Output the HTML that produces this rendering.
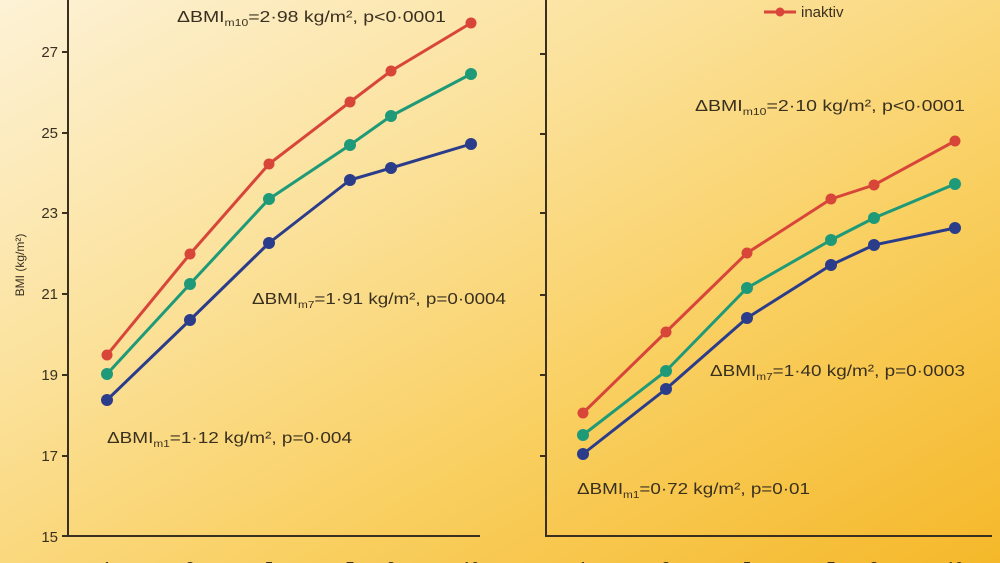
<!DOCTYPE html>
<html><head><meta charset="utf-8"><style>
html,body{margin:0;padding:0;width:1000px;height:563px;overflow:hidden}
svg{display:block}
text{font-family:"Liberation Sans",sans-serif;fill:#3a3020}
</style></head><body>
<svg width="1000" height="563" viewBox="0 0 1000 563" xmlns="http://www.w3.org/2000/svg">
<defs>
<linearGradient id="bg" x1="0" y1="0" x2="1" y2="1">
<stop offset="0" stop-color="#fdf2d6"/>
<stop offset="0.35" stop-color="#fbe19a"/>
<stop offset="0.65" stop-color="#f9cf60"/>
<stop offset="1" stop-color="#f5b82a"/>
</linearGradient>
</defs>
<rect width="1000" height="563" fill="url(#bg)"/>
<g stroke="#3a3020" stroke-width="2" fill="none">
<path d="M68 0V536H480"/>
<path d="M546 0V536H992"/>
<path d="M62 52H68M62 133H68M62 213H68M62 294H68M62 375H68M62 456H68M62 536H68"/>
<path d="M540 54H546M540 134H546M540 213H546M540 295H546M540 375H546M540 456H546"/>
</g>
<g font-size="15" text-anchor="end">
<text x="58" y="57">27</text><text x="58" y="138">25</text><text x="58" y="218">23</text>
<text x="58" y="299">21</text><text x="58" y="380">19</text><text x="58" y="461">17</text><text x="58" y="542">15</text>
</g>
<g font-size="15" text-anchor="middle">
<text x="107" y="572">1</text><text x="190" y="572">3</text><text x="269" y="572">5</text><text x="350" y="572">7</text><text x="391" y="572">8</text><text x="471" y="572">10</text>
<text x="583" y="572">1</text><text x="666" y="572">3</text><text x="747" y="572">5</text><text x="831" y="572">7</text><text x="874" y="572">8</text><text x="955" y="572">10</text>
</g>
<text x="24" y="265" font-size="12" text-anchor="middle" transform="rotate(-90 24 265)">BMI (kg/m²)</text>
<g fill="none" stroke-width="3" stroke-linejoin="round">
<polyline stroke="#d8463a" points="107,355 190,254 269,164 350,102 391,71 471,23"/>
<polyline stroke="#1f9a78" points="107,374 190,284 269,199 350,145 391,116 471,74"/>
<polyline stroke="#2b3d8a" points="107,400 190,320 269,243 350,180 391,168 471,144"/>
<polyline stroke="#d8463a" points="583,413 666,332 747,253 831,199 874,185 955,141"/>
<polyline stroke="#1f9a78" points="583,435 666,371 747,288 831,240 874,218 955,184"/>
<polyline stroke="#2b3d8a" points="583,454 666,389 747,318 831,265 874,245 955,228"/>
</g>
<g fill="#d8463a">
<circle cx="107" cy="355" r="5.5"/><circle cx="190" cy="254" r="5.5"/><circle cx="269" cy="164" r="5.5"/><circle cx="350" cy="102" r="5.5"/><circle cx="391" cy="71" r="5.5"/><circle cx="471" cy="23" r="5.5"/>
<circle cx="583" cy="413" r="5.5"/><circle cx="666" cy="332" r="5.5"/><circle cx="747" cy="253" r="5.5"/><circle cx="831" cy="199" r="5.5"/><circle cx="874" cy="185" r="5.5"/><circle cx="955" cy="141" r="5.5"/>
</g>
<g fill="#1f9a78">
<circle cx="107" cy="374" r="6"/><circle cx="190" cy="284" r="6"/><circle cx="269" cy="199" r="6"/><circle cx="350" cy="145" r="6"/><circle cx="391" cy="116" r="6"/><circle cx="471" cy="74" r="6"/>
<circle cx="583" cy="435" r="6"/><circle cx="666" cy="371" r="6"/><circle cx="747" cy="288" r="6"/><circle cx="831" cy="240" r="6"/><circle cx="874" cy="218" r="6"/><circle cx="955" cy="184" r="6"/>
</g>
<g fill="#2b3d8a">
<circle cx="107" cy="400" r="6"/><circle cx="190" cy="320" r="6"/><circle cx="269" cy="243" r="6"/><circle cx="350" cy="180" r="6"/><circle cx="391" cy="168" r="6"/><circle cx="471" cy="144" r="6"/>
<circle cx="583" cy="454" r="6"/><circle cx="666" cy="389" r="6"/><circle cx="747" cy="318" r="6"/><circle cx="831" cy="265" r="6"/><circle cx="874" cy="245" r="6"/><circle cx="955" cy="228" r="6"/>
</g>
<line x1="764" y1="12" x2="796" y2="12" stroke="#d8463a" stroke-width="3"/>
<circle cx="780" cy="12" r="4.5" fill="#d8463a"/>
<text x="801" y="17" font-size="15">inaktiv</text>
<g font-size="16">
<text x="177" y="22" textLength="269" lengthAdjust="spacingAndGlyphs">ΔBMI<tspan font-size="10" dy="4">m10</tspan><tspan dy="-4">=2·98 kg/m², p&lt;0·0001</tspan></text>
<text x="252" y="304" textLength="254" lengthAdjust="spacingAndGlyphs">ΔBMI<tspan font-size="10" dy="4">m7</tspan><tspan dy="-4">=1·91 kg/m², p=0·0004</tspan></text>
<text x="107" y="443" textLength="245" lengthAdjust="spacingAndGlyphs">ΔBMI<tspan font-size="10" dy="4">m1</tspan><tspan dy="-4">=1·12 kg/m², p=0·004</tspan></text>
<text x="695" y="111" textLength="270" lengthAdjust="spacingAndGlyphs">ΔBMI<tspan font-size="10" dy="4">m10</tspan><tspan dy="-4">=2·10 kg/m², p&lt;0·0001</tspan></text>
<text x="710" y="376" textLength="255" lengthAdjust="spacingAndGlyphs">ΔBMI<tspan font-size="10" dy="4">m7</tspan><tspan dy="-4">=1·40 kg/m², p=0·0003</tspan></text>
<text x="577" y="494" textLength="233" lengthAdjust="spacingAndGlyphs">ΔBMI<tspan font-size="10" dy="4">m1</tspan><tspan dy="-4">=0·72 kg/m², p=0·01</tspan></text>
</g>
</svg>
</body></html>
